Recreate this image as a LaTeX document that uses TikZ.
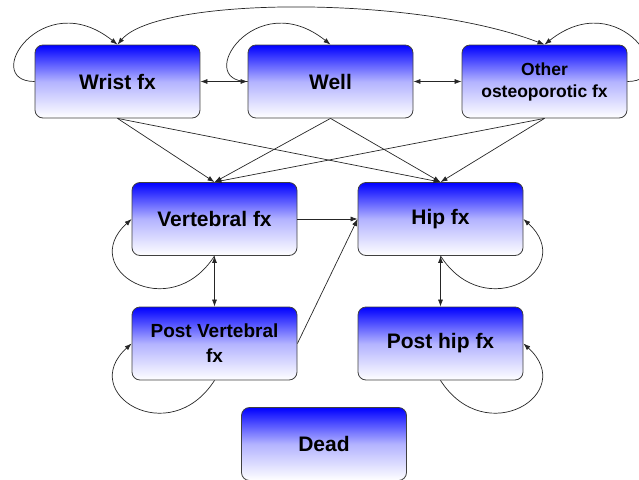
\documentclass[tikz,border=0pt]{standalone}
\usepackage{fontspec}
\setmainfont{Liberation Sans}
\usetikzlibrary{arrows.meta}
\tikzset{
	state/.style={draw=black!75, line width=0.8pt, rounded corners=8pt, top color=blue, bottom color=white, middle color=blue!30!white, minimum width=165pt, minimum height=73pt, inner sep=2pt, align=center, font=\bfseries\fontsize{21}{24}\selectfont},
	link/.style={draw=black!85, line width=0.7pt, -{Latex[length=7pt,width=5pt]}},
	both/.style={link, {Latex[length=7pt,width=5pt]}-{Latex[length=7pt,width=5pt]}}
}

\begin{document}
\begin{tikzpicture}[x=1pt, y=-1pt]
		%%%%% START %%%%%
		\useasboundingbox (0, 0) rectangle (639, 479);
		
		\node[state] (wrist) at (117.5, 81.5) {Wrist fx};
		\node[state] (well) at (330.5, 81.5) {Well};
		\node[state, font=\bfseries\fontsize{17.5}{22}\selectfont] (other) at (544.5, 81.5) {Other\\osteoporotic fx};
		
		\node[state] (vert) at (214.5, 219) {Vertebral fx};
		\node[state] (hip) at (440.5, 219) {Hip fx};
		\node[state, font=\bfseries\fontsize{19}{25}\selectfont] (postvert) at (214.5, 343.5) {Post Vertebral\\fx};
		\node[state] (posthip) at (440.5, 343.5) {Post hip fx};
		
		\node[state] (dead) at (324, 444) {Dead};
		
		% top row
		\draw[both] (wrist) -- (well);
		\draw[both] (well) -- (other);
		\draw[both] (wrist.north) .. controls +(40, -48) and +(-130, -50) .. (other.north);
		\draw[link] (wrist.west) .. controls +(-55, 0) and +(-75, -60) .. (wrist.north);
		\draw[link] (well.west) .. controls +(-55, 0) and +(-75, -60) .. (well.north);
		\draw[link] (other.east) .. controls +(55, 0) and +(75, -60) .. (other.north);
		
		% down to vertebral and hip
		\draw[link] (wrist.south) -- (vert.north);
		\draw[link] (wrist.south) -- (hip.north);
		\draw[link] (well.south) -- (vert.north);
		\draw[link] (well.south) -- (hip.north);
		\draw[link] (other.south) -- (vert.north);
		\draw[link] (other.south) -- (hip.north);
		
		% middle and lower rows
		\draw[link] (vert) -- (hip);
		\draw[link] (postvert.east) -- (hip.west);
		\draw[both] (vert) -- (postvert);
		\draw[both] (hip) -- (posthip);
		\draw[link] (vert.south) .. controls +(-45, 70) and +(-55, 50) .. (vert.west);
		\draw[link] (postvert.south) .. controls +(-45, 70) and +(-55, 50) .. (postvert.west);
		\draw[link] (hip.south) .. controls +(45, 70) and +(55, 50) .. (hip.east);
		\draw[link] (posthip.south) .. controls +(45, 70) and +(55, 50) .. (posthip.east);
		%%%%% END %%%%%
\end{tikzpicture}
\end{document}
